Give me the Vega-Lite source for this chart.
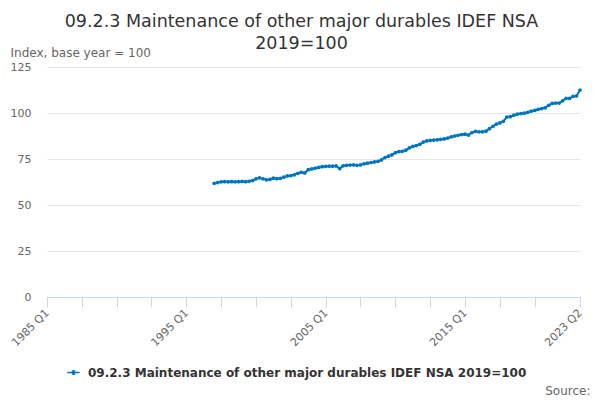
{
  "$schema": "https://vega.github.io/schema/vega-lite/v6.json",
  "width": 533,
  "height": 230,
  "autosize": "none",
  "padding": {"left": 47, "top": 67, "right": 20, "bottom": 103},
  "background": "#ffffff",
  "title": {
    "text": ["09.2.3 Maintenance of other major durables IDEF NSA", "2019=100"],
    "font": "DejaVu Sans",
    "fontSize": 17.5,
    "fontWeight": "normal",
    "color": "#333333",
    "lineHeight": 22,
    "anchor": "middle",
    "dx": -12,
    "offset": -6
  },
  "data": {
    "values": [
      {"date": "1997-01-01", "value": 61.8},
      {"date": "1997-04-01", "value": 62.2},
      {"date": "1997-07-01", "value": 62.6},
      {"date": "1997-10-01", "value": 62.7},
      {"date": "1998-01-01", "value": 62.6},
      {"date": "1998-04-01", "value": 62.7},
      {"date": "1998-07-01", "value": 62.6},
      {"date": "1998-10-01", "value": 62.7},
      {"date": "1999-01-01", "value": 62.8},
      {"date": "1999-04-01", "value": 62.7},
      {"date": "1999-07-01", "value": 62.9},
      {"date": "1999-10-01", "value": 63.3},
      {"date": "2000-01-01", "value": 64.2},
      {"date": "2000-04-01", "value": 64.8},
      {"date": "2000-07-01", "value": 64.2},
      {"date": "2000-10-01", "value": 63.7},
      {"date": "2001-01-01", "value": 63.9},
      {"date": "2001-04-01", "value": 64.6},
      {"date": "2001-07-01", "value": 64.3},
      {"date": "2001-10-01", "value": 64.5},
      {"date": "2002-01-01", "value": 65.2},
      {"date": "2002-04-01", "value": 65.8},
      {"date": "2002-07-01", "value": 65.9},
      {"date": "2002-10-01", "value": 66.4},
      {"date": "2003-01-01", "value": 67.2},
      {"date": "2003-04-01", "value": 67.8},
      {"date": "2003-07-01", "value": 67.4},
      {"date": "2003-10-01", "value": 69.2},
      {"date": "2004-01-01", "value": 69.6},
      {"date": "2004-04-01", "value": 70.0},
      {"date": "2004-07-01", "value": 70.4},
      {"date": "2004-10-01", "value": 70.8},
      {"date": "2005-01-01", "value": 71.0},
      {"date": "2005-04-01", "value": 71.1},
      {"date": "2005-07-01", "value": 71.1},
      {"date": "2005-10-01", "value": 71.2},
      {"date": "2006-01-01", "value": 69.8},
      {"date": "2006-04-01", "value": 71.3},
      {"date": "2006-07-01", "value": 71.6},
      {"date": "2006-10-01", "value": 71.7},
      {"date": "2007-01-01", "value": 71.8},
      {"date": "2007-04-01", "value": 71.6},
      {"date": "2007-07-01", "value": 71.8},
      {"date": "2007-10-01", "value": 72.4},
      {"date": "2008-01-01", "value": 72.7},
      {"date": "2008-04-01", "value": 73.1},
      {"date": "2008-07-01", "value": 73.4},
      {"date": "2008-10-01", "value": 73.7},
      {"date": "2009-01-01", "value": 74.5},
      {"date": "2009-04-01", "value": 75.8},
      {"date": "2009-07-01", "value": 76.5},
      {"date": "2009-10-01", "value": 77.3},
      {"date": "2010-01-01", "value": 78.4},
      {"date": "2010-04-01", "value": 79.0},
      {"date": "2010-07-01", "value": 79.2},
      {"date": "2010-10-01", "value": 79.8},
      {"date": "2011-01-01", "value": 81.0},
      {"date": "2011-04-01", "value": 81.8},
      {"date": "2011-07-01", "value": 82.3},
      {"date": "2011-10-01", "value": 83.0},
      {"date": "2012-01-01", "value": 84.2},
      {"date": "2012-04-01", "value": 84.8},
      {"date": "2012-07-01", "value": 85.1},
      {"date": "2012-10-01", "value": 85.3},
      {"date": "2013-01-01", "value": 85.4},
      {"date": "2013-04-01", "value": 85.7},
      {"date": "2013-07-01", "value": 85.9},
      {"date": "2013-10-01", "value": 86.4},
      {"date": "2014-01-01", "value": 87.0},
      {"date": "2014-04-01", "value": 87.5},
      {"date": "2014-07-01", "value": 87.9},
      {"date": "2014-10-01", "value": 88.3},
      {"date": "2015-01-01", "value": 88.5},
      {"date": "2015-04-01", "value": 88.0},
      {"date": "2015-07-01", "value": 89.4},
      {"date": "2015-10-01", "value": 90.0},
      {"date": "2016-01-01", "value": 89.8},
      {"date": "2016-04-01", "value": 89.8},
      {"date": "2016-07-01", "value": 90.1},
      {"date": "2016-10-01", "value": 91.5},
      {"date": "2017-01-01", "value": 92.8},
      {"date": "2017-04-01", "value": 94.0},
      {"date": "2017-07-01", "value": 94.6},
      {"date": "2017-10-01", "value": 95.5},
      {"date": "2018-01-01", "value": 97.8},
      {"date": "2018-04-01", "value": 98.0},
      {"date": "2018-07-01", "value": 98.8},
      {"date": "2018-10-01", "value": 99.4},
      {"date": "2019-01-01", "value": 99.7},
      {"date": "2019-04-01", "value": 99.9},
      {"date": "2019-07-01", "value": 100.4},
      {"date": "2019-10-01", "value": 101.0},
      {"date": "2020-01-01", "value": 101.4},
      {"date": "2020-04-01", "value": 102.0},
      {"date": "2020-07-01", "value": 102.4},
      {"date": "2020-10-01", "value": 102.8},
      {"date": "2021-01-01", "value": 104.2},
      {"date": "2021-04-01", "value": 105.2},
      {"date": "2021-07-01", "value": 105.4},
      {"date": "2021-10-01", "value": 105.4},
      {"date": "2022-01-01", "value": 106.6},
      {"date": "2022-04-01", "value": 108.0},
      {"date": "2022-07-01", "value": 107.9},
      {"date": "2022-10-01", "value": 109.0},
      {"date": "2023-01-01", "value": 109.3},
      {"date": "2023-04-01", "value": 112.5}
    ]
  },
  "transform": [
    {"calculate": "'09.2.3 Maintenance of other major durables IDEF NSA 2019=100'", "as": "series"}
  ],
  "mark": {
    "type": "line",
    "strokeWidth": 2,
    "point": {"filled": true, "size": 14}
  },
  "encoding": {
    "x": {
      "field": "date",
      "type": "temporal",
      "scale": {
        "type": "utc",
        "domain": [
          {"year": 1985, "month": 1, "date": 1, "utc": true},
          {"year": 2023, "month": 4, "date": 1, "utc": true}
        ]
      },
      "axis": {
        "values": [
          {"year": 1985, "month": 1, "date": 1, "utc": true},
          {"year": 1987, "month": 7, "date": 1, "utc": true},
          {"year": 1990, "month": 1, "date": 1, "utc": true},
          {"year": 1992, "month": 7, "date": 1, "utc": true},
          {"year": 1995, "month": 1, "date": 1, "utc": true},
          {"year": 1997, "month": 7, "date": 1, "utc": true},
          {"year": 2000, "month": 1, "date": 1, "utc": true},
          {"year": 2002, "month": 7, "date": 1, "utc": true},
          {"year": 2005, "month": 1, "date": 1, "utc": true},
          {"year": 2007, "month": 7, "date": 1, "utc": true},
          {"year": 2010, "month": 1, "date": 1, "utc": true},
          {"year": 2012, "month": 7, "date": 1, "utc": true},
          {"year": 2015, "month": 1, "date": 1, "utc": true},
          {"year": 2017, "month": 7, "date": 1, "utc": true},
          {"year": 2020, "month": 1, "date": 1, "utc": true},
          {"year": 2023, "month": 4, "date": 1, "utc": true}
        ],
        "labelExpr": "indexof(['1985 Q1','1995 Q1','2005 Q1','2015 Q1','2023 Q2'], utcFormat(datum.value, '%Y Q%q')) >= 0 ? utcFormat(datum.value, '%Y Q%q') : ''",
        "labelAngle": -45,
        "labelAlign": "right",
        "labelBaseline": "middle",
        "labelFont": "DejaVu Sans",
        "labelFontSize": 11,
        "labelColor": "#666666",
        "labelPadding": 4,
        "labelOverlap": false,
        "labelBound": false,
        "labelFlush": false,
        "grid": false,
        "domainColor": "#ccd6eb",
        "tickColor": "#ccd6eb",
        "tickSize": 10,
        "title": "Source:",
        "titleFont": "DejaVu Sans",
        "titleFontSize": 12,
        "titleFontWeight": "normal",
        "titleColor": "#666666",
        "titleAlign": "right",
        "titleAnchor": "end",
        "titleX": 543,
        "titleY": 88
      }
    },
    "y": {
      "field": "value",
      "type": "quantitative",
      "scale": {"domain": [0, 125], "nice": false},
      "axis": {
        "values": [0, 25, 50, 75, 100, 125],
        "labelFont": "DejaVu Sans",
        "labelFontSize": 11,
        "labelColor": "#666666",
        "labelPadding": 16,
        "ticks": false,
        "domain": false,
        "gridColor": "#e6e6e6",
        "title": "Index, base year = 100",
        "titleFont": "DejaVu Sans",
        "titleFontSize": 12,
        "titleFontWeight": "normal",
        "titleColor": "#666666",
        "titleAngle": 0,
        "titleAlign": "left",
        "titleBaseline": "middle",
        "titleX": -37,
        "titleY": -15
      }
    },
    "color": {
      "field": "series",
      "type": "nominal",
      "scale": {"range": ["#0075bf"]},
      "legend": {
        "title": null,
        "orient": "none",
        "legendX": 20,
        "legendY": 299,
        "symbolType": "M-1,-0.12H-0.3A0.3,0.3 0 0 1 0.3,-0.12H1V0.12H0.3A0.3,0.3 0 0 1 -0.3,0.12H-1Z",
        "symbolSize": 150,
        "symbolStrokeWidth": 0,
        "labelOffset": 8,
        "labelFont": "DejaVu Sans",
        "labelFontSize": 12,
        "labelFontWeight": "bold",
        "labelColor": "#333333",
        "labelLimit": 600
      }
    }
  },
  "config": {
    "view": {"stroke": null},
    "legend": {"symbolFillColor": "#0075bf"}
  }
}
